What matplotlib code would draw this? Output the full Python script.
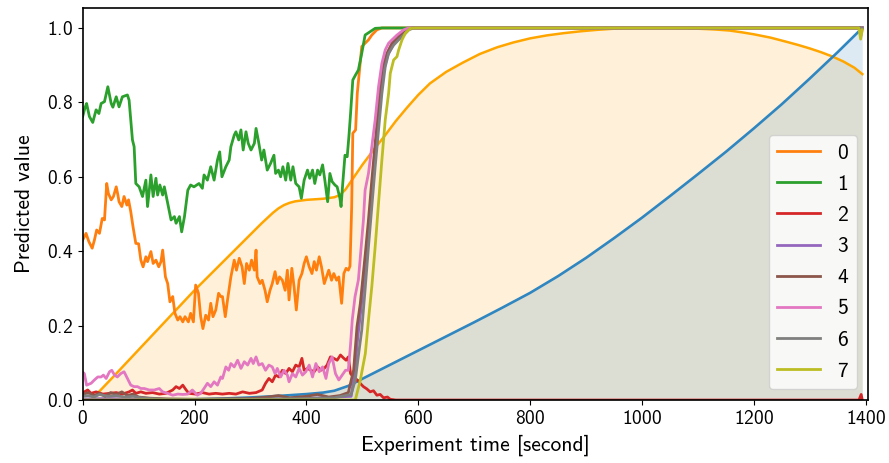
import matplotlib.pyplot as plt

plt.rcParams['font.family'] = ['cmss10', 'DejaVu Sans']
plt.rcParams['axes.unicode_minus'] = False
plt.rcParams['axes.formatter.use_mathtext'] = True
plt.rcParams['font.size'] = 14

# smooth reference curves (filled underneath)
ramp_t = [0, 15, 50, 100, 150, 200, 250, 300, 320, 340, 350, 360, 370, 380, 400, 430, 450,
          460, 470, 480, 490, 500, 520, 540, 560, 580, 600, 621, 650, 680, 710, 741, 770,
          800, 830, 860, 890, 920, 950, 979, 1020, 1060, 1100, 1130, 1157, 1180, 1200, 1230,
          1258, 1280, 1300, 1320, 1341, 1360, 1380, 1394]
ramp_v = [0.0, 0.0, 0.055, 0.135, 0.215, 0.295, 0.37, 0.445, 0.475, 0.503, 0.515, 0.524,
          0.53, 0.534, 0.538, 0.541, 0.545, 0.551, 0.566, 0.588, 0.61, 0.632, 0.672, 0.71,
          0.75, 0.786, 0.82, 0.851, 0.882, 0.907, 0.93, 0.948, 0.961, 0.972, 0.98, 0.986,
          0.991, 0.995, 0.998, 1.0, 1.0, 1.0, 0.998, 0.996, 0.993, 0.988, 0.983, 0.974,
          0.963, 0.954, 0.945, 0.935, 0.923, 0.91, 0.893, 0.876]

trend_t = [0, 150, 200, 250, 300, 350, 400, 430, 450, 475, 500, 550, 600, 650, 700, 750,
           800, 850, 900, 950, 1000, 1050, 1100, 1150, 1200, 1250, 1300, 1350, 1394]
trend_v = [0.0, 0.0, 0.002, 0.004, 0.007, 0.011, 0.016, 0.02, 0.025, 0.038, 0.057, 0.095,
           0.133, 0.171, 0.209, 0.248, 0.288, 0.333, 0.382, 0.435, 0.49, 0.548, 0.607,
           0.667, 0.73, 0.795, 0.864, 0.935, 1.0]

# class predictions
t0 = [0, 6, 11, 17, 21, 25, 30, 35, 39, 43, 46, 51, 55, 60, 63, 65, 70, 74, 79, 82, 86, 90,
      95, 100, 104, 108, 113, 116, 122, 126, 131, 136, 140, 143, 148, 152, 156, 161, 165,
      170, 174, 179, 183, 189, 193, 198, 202, 207, 211, 215, 220, 225, 229, 233, 238, 243,
      247, 250, 255, 259, 265, 271, 275, 280, 285, 289, 293, 298, 302, 307, 310, 312, 317,
      321, 326, 330, 335, 339, 344, 348, 352, 357, 362, 366, 369, 374, 378, 382, 387, 392,
      396, 400, 405, 410, 414, 418, 423, 427, 432, 436, 440, 445, 449, 454, 458, 463, 467,
      471, 475, 478, 481, 483, 488, 491, 495, 499, 505, 511, 517, 526, 535, 1394]
p0 = [0.430, 0.448, 0.426, 0.408, 0.430, 0.457, 0.448, 0.488, 0.484, 0.582, 0.555, 0.538,
      0.547, 0.573, 0.551, 0.533, 0.520, 0.547, 0.524, 0.538, 0.506, 0.466, 0.421, 0.42,
      0.376, 0.358, 0.385, 0.372, 0.399, 0.367, 0.376, 0.358, 0.372, 0.403, 0.331, 0.313,
      0.264, 0.278, 0.233, 0.215, 0.224, 0.210, 0.224, 0.210, 0.233, 0.210, 0.309, 0.287,
      0.224, 0.192, 0.228, 0.215, 0.260, 0.224, 0.242, 0.287, 0.278, 0.278, 0.224, 0.269,
      0.331, 0.376, 0.349, 0.381, 0.358, 0.313, 0.367, 0.349, 0.376, 0.349, 0.403, 0.331,
      0.313, 0.322, 0.295, 0.264, 0.295, 0.313, 0.345, 0.313, 0.331, 0.322, 0.295, 0.349,
      0.269, 0.354, 0.304, 0.242, 0.322, 0.340, 0.367, 0.385, 0.358, 0.340, 0.372, 0.349,
      0.385, 0.358, 0.313, 0.331, 0.349, 0.322, 0.340, 0.322, 0.331, 0.260, 0.340, 0.354,
      0.349, 0.36, 0.52, 0.717, 0.726, 0.824, 0.887, 0.95, 0.959, 0.968, 0.981, 0.995, 1.0,
      1.0]

t1 = [0, 4, 7, 12, 18, 24, 29, 33, 39, 45, 51, 54, 60, 65, 71, 80, 83, 89, 92, 95, 101, 107,
      113, 116, 122, 126, 131, 134, 138, 143, 146, 152, 158, 164, 167, 173, 177, 182, 188,
      193, 199, 208, 214, 217, 223, 229, 235, 241, 245, 249, 256, 262, 265, 271, 274, 279,
      283, 287, 292, 296, 301, 307, 310, 315, 320, 324, 330, 336, 342, 345, 350, 354, 358,
      363, 367, 372, 376, 381, 387, 391, 396, 402, 406, 411, 415, 420, 424, 429, 433, 438,
      442, 446, 451, 455, 460, 462, 465, 469, 473, 476, 479, 483, 488, 493, 499, 505, 514,
      523, 535, 1394]
p1 = [0.762, 0.785, 0.797, 0.762, 0.746, 0.78, 0.77, 0.797, 0.802, 0.842, 0.797, 0.787,
      0.815, 0.788, 0.815, 0.820, 0.806, 0.699, 0.681, 0.582, 0.573, 0.547, 0.591, 0.520,
      0.605, 0.547, 0.596, 0.551, 0.578, 0.551, 0.573, 0.529, 0.484, 0.493, 0.475, 0.493,
      0.452, 0.493, 0.564, 0.578, 0.573, 0.582, 0.569, 0.605, 0.591, 0.627, 0.591, 0.645,
      0.667, 0.600, 0.627, 0.645, 0.681, 0.712, 0.721, 0.699, 0.726, 0.672, 0.721, 0.690,
      0.672, 0.690, 0.730, 0.690, 0.645, 0.672, 0.618, 0.636, 0.658, 0.609, 0.618, 0.600,
      0.627, 0.591, 0.636, 0.591, 0.627, 0.582, 0.573, 0.542, 0.591, 0.618, 0.596, 0.618,
      0.582, 0.618, 0.605, 0.632, 0.591, 0.533, 0.609, 0.587, 0.578, 0.573, 0.542, 0.520,
      0.582, 0.658, 0.654, 0.708, 0.77, 0.86, 0.874, 0.887, 0.932, 0.981, 0.99, 0.999, 1.0,
      1.0]

t2 = [0, 3, 9, 15, 24, 36, 48, 60, 71, 83, 89, 95, 104, 113, 125, 137, 149, 161, 167, 173,
      179, 185, 190, 202, 214, 226, 238, 250, 262, 274, 286, 298, 310, 321, 327, 333, 339,
      345, 351, 357, 363, 369, 375, 381, 387, 392, 396, 402, 408, 414, 420, 426, 432, 437,
      443, 449, 455, 461, 467, 471, 475, 479, 485, 490, 496, 502, 508, 514, 520, 526, 532,
      538, 545, 550, 560, 1388, 1392, 1394]
p2 = [0.02, 0.022, 0.027, 0.018, 0.022, 0.016, 0.018, 0.02, 0.016, 0.022, 0.027, 0.018,
      0.022, 0.018, 0.02, 0.016, 0.018, 0.027, 0.036, 0.031, 0.040, 0.027, 0.018, 0.016,
      0.02, 0.016, 0.018, 0.016, 0.018, 0.016, 0.022, 0.018, 0.02, 0.027, 0.045, 0.058,
      0.049, 0.067, 0.062, 0.080, 0.071, 0.085, 0.076, 0.094, 0.089, 0.112, 0.080, 0.085,
      0.080, 0.076, 0.089, 0.080, 0.085, 0.094, 0.116, 0.112, 0.107, 0.121, 0.112, 0.107,
      0.116, 0.071, 0.06, 0.055, 0.045, 0.036, 0.03, 0.022, 0.025, 0.013, 0.015, 0.006,
      0.008, 0.002, 0.0, 0.0, 0.015, 0.0]

t3 = [0, 50, 100, 200, 300, 400, 480, 486, 492, 498, 506, 512, 518, 524, 530, 536, 545, 555,
      565, 577, 588, 1394]
p3 = [0.003, 0.004, 0.002, 0.001, 0.002, 0.004, 0.01, 0.07, 0.17, 0.25, 0.38, 0.47, 0.58,
      0.68, 0.78, 0.87, 0.925, 0.955, 0.975, 0.995, 1.0, 1.0]

t4 = [0, 10, 20, 30, 40, 50, 60, 70, 80, 90, 100, 120, 150, 200, 250, 300, 330, 350, 370,
      400, 420, 440, 460, 475, 484.5, 490.5, 496.5, 505.4, 511, 517, 523, 529, 535, 544,
      553, 562, 571, 580, 590, 1394]
p4 = [0.015, 0.02, 0.012, 0.018, 0.01, 0.02, 0.015, 0.022, 0.012, 0.016, 0.008, 0.005,
      0.003, 0.002, 0.003, 0.004, 0.008, 0.012, 0.006, 0.01, 0.015, 0.008, 0.012, 0.02,
      0.081, 0.197, 0.26, 0.394, 0.484, 0.591, 0.69, 0.797, 0.887, 0.932, 0.959, 0.972,
      0.986, 0.999, 1.0, 1.0]

t5 = [0, 3, 7, 15, 21, 27, 33, 37, 42, 48, 52, 57, 62, 68, 74, 80, 86, 92, 98, 104, 110,
      119, 128, 137, 143, 152, 161, 170, 179, 188, 196, 205, 211, 217, 223, 229, 235, 241,
      247, 250, 256, 261, 265, 271, 277, 283, 289, 295, 301, 305, 310, 315, 321, 327, 333,
      339, 344, 348, 354, 360, 366, 369, 375, 381, 387, 393, 399, 405, 411, 417, 423, 429,
      435, 440, 446, 452, 458, 464, 470, 475, 479, 482, 487, 493, 502, 505, 511, 517, 523,
      529, 535, 541, 547, 553, 562, 574, 583, 1388, 1392, 1394]
p5 = [0.075, 0.071, 0.040, 0.045, 0.054, 0.062, 0.062, 0.067, 0.058, 0.076, 0.080, 0.067,
      0.062, 0.071, 0.076, 0.058, 0.040, 0.036, 0.036, 0.031, 0.031, 0.027, 0.027, 0.031,
      0.022, 0.018, 0.013, 0.016, 0.015, 0.016, 0.027, 0.013, 0.018, 0.031, 0.045, 0.036,
      0.049, 0.040, 0.062, 0.058, 0.089, 0.080, 0.098, 0.089, 0.107, 0.085, 0.103, 0.094,
      0.112, 0.098, 0.116, 0.094, 0.098, 0.080, 0.094, 0.089, 0.071, 0.085, 0.062, 0.080,
      0.067, 0.049, 0.071, 0.062, 0.085, 0.067, 0.076, 0.094, 0.062, 0.098, 0.076, 0.089,
      0.058, 0.098, 0.116, 0.071, 0.054, 0.067, 0.080, 0.08, 0.15, 0.215, 0.278, 0.323,
      0.484, 0.564, 0.609, 0.681, 0.753, 0.842, 0.905, 0.941, 0.959, 0.968, 0.981, 0.995,
      1.0, 1.0, 0.98, 1.0]

t6 = [0, 10, 20, 30, 45, 60, 75, 90, 110, 150, 300, 400, 450, 480, 487.5, 493.5, 499,
      505.4, 511, 517, 523, 529, 535, 541, 547, 556, 565, 574, 583, 592, 1394]
p6 = [0.01, 0.012, 0.008, 0.015, 0.01, 0.012, 0.008, 0.01, 0.005, 0.002, 0.002, 0.004,
      0.006, 0.015, 0.054, 0.125, 0.188, 0.305, 0.412, 0.52, 0.627, 0.726, 0.824, 0.896,
      0.932, 0.954, 0.968, 0.981, 0.995, 1.0, 1.0]

t7 = [0, 487.5, 496.5, 505.4, 511, 517, 523, 529, 535, 541, 547, 550, 556, 562, 565, 571,
      577, 586, 595, 1388, 1391, 1394]
p7 = [0.0, 0.0, 0.054, 0.125, 0.215, 0.305, 0.412, 0.529, 0.645, 0.753, 0.824, 0.878,
      0.914, 0.923, 0.941, 0.968, 0.986, 0.999, 1.0, 1.0, 0.97, 0.995]

times = [t0, t1, t2, t3, t4, t5, t6, t7]
preds = [p0, p1, p2, p3, p4, p5, p6, p7]
labels = ['0', '1', '2', '3', '4', '5', '6', '7']

fig, ax = plt.subplots(figsize=(8.89, 4.63), dpi=100)
fig.subplots_adjust(left=0.093, right=0.976, top=0.983, bottom=0.136)

ax.fill_between(ramp_t, ramp_v, color='orange', alpha=0.15, linewidth=0)
ax.fill_between(trend_t, trend_v, color='tab:blue', alpha=0.15, linewidth=0)
ax.plot(ramp_t, ramp_v, color='orange', linewidth=1.8)
ax.plot(trend_t, trend_v, color='#2f86c0', linewidth=1.9)

for k in range(len(preds)):
    ax.plot(times[k], preds[k], color=f'C{k + 1}', linewidth=2.0, label=labels[k])

ax.set_xlim(0, 1403.6)
ax.set_ylim(0, 1.054)
ax.tick_params(labelsize=14)
ax.set_xlabel('Experiment time [second]', fontsize=15.5, labelpad=5)
ax.set_ylabel('Predicted value', fontsize=15.5, labelpad=9)
for s in ax.spines.values():
    s.set_linewidth(1.2)
ax.legend(loc='lower right', fontsize=15.5, labelspacing=0.56)

fig.savefig('out.png', dpi=100)
